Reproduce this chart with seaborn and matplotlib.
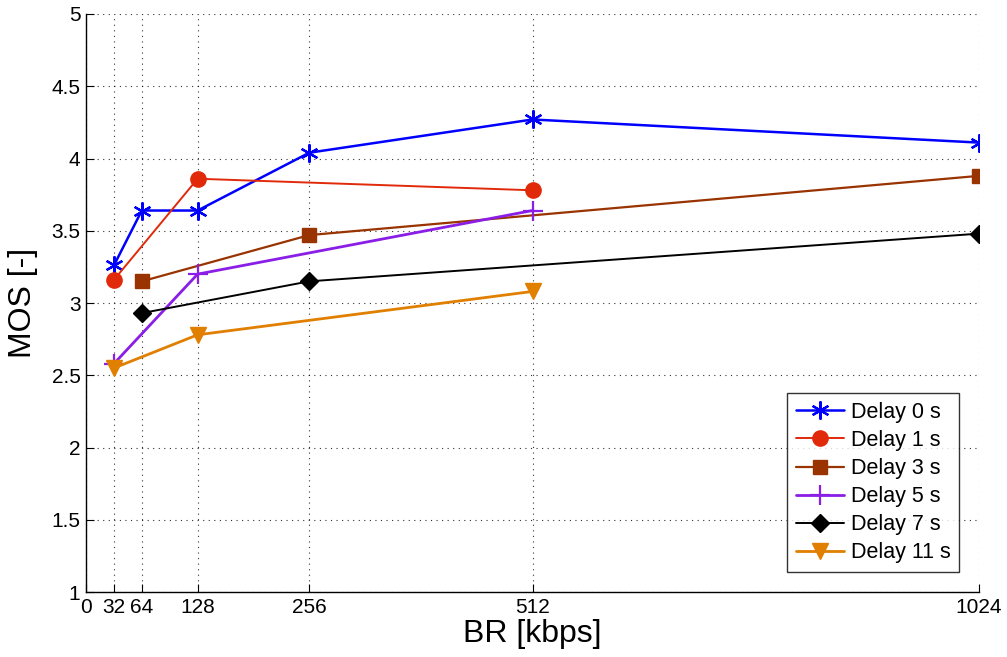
import matplotlib
matplotlib.use("Agg")
import matplotlib.pyplot as plt
import seaborn as sns
import pandas as pd

# Bit rates (kbps) and mean opinion scores per playout delay
br_d0 = [32, 64, 128, 256, 512, 1024]
mos_d0 = [3.26, 3.64, 3.64, 4.04, 4.27, 4.11]
br_d1 = [32, 128, 512]
mos_d1 = [3.16, 3.86, 3.78]
br_d3 = [64, 256, 1024]
mos_d3 = [3.15, 3.47, 3.88]
br_d5 = [32, 128, 512]
mos_d5 = [2.58, 3.20, 3.64]
br_d7 = [64, 256, 1024]
mos_d7 = [2.93, 3.15, 3.48]
br_d11 = [32, 128, 512]
mos_d11 = [2.55, 2.78, 3.08]

labels = ["Delay 0 s", "Delay 1 s", "Delay 3 s", "Delay 5 s", "Delay 7 s", "Delay 11 s"]
x_ticks = [0, 32, 64, 128, 256, 512, 1024]
y_ticks = [1, 1.5, 2, 2.5, 3, 3.5, 4, 4.5, 5]
y_tick_labels = ["1", "1.5", "2", "2.5", "3", "3.5", "4", "4.5", "5"]

series = [
    (br_d0, mos_d0), (br_d1, mos_d1), (br_d3, mos_d3),
    (br_d5, mos_d5), (br_d7, mos_d7), (br_d11, mos_d11),
]

styles = [
    dict(color="#0000ff", marker=(6, 2, 0), markersize=13, linewidth=1.8, mew=1.6),
    dict(color="#e02a0a", marker="o", markersize=11, linewidth=1.4, mew=1.0),
    dict(color="#993300", marker="s", markersize=10, linewidth=1.6, mew=1.0),
    dict(color="#8a1ee6", marker="+", markersize=14, linewidth=2.0, mew=1.6),
    dict(color="#000000", marker="D", markersize=9, linewidth=1.4, mew=1.0),
    dict(color="#e07f00", marker="v", markersize=12, linewidth=2.0, mew=1.0),
]

sns.set_style("white")
plt.rcParams["font.family"] = ["Liberation Sans", "DejaVu Sans"]
plt.rcParams["text.color"] = "black"
plt.rcParams["axes.labelcolor"] = "black"
plt.rcParams["xtick.color"] = "black"
plt.rcParams["ytick.color"] = "black"

fig = plt.figure(figsize=(10.07, 6.57), dpi=100)
ax = fig.add_axes([0.0854, 0.0989, 0.8868, 0.8798])

frames = []
for lab, (xs, ys) in zip(labels, series):
    frames.append(pd.DataFrame({"BR": xs, "MOS": ys, "Delay": lab}))
data = pd.concat(frames, ignore_index=True)

for lab, st in zip(labels, styles):
    sub = data[data["Delay"] == lab]
    sns.lineplot(
        data=sub, x="BR", y="MOS", ax=ax, label=lab,
        color=st["color"], marker=st["marker"], markersize=st["markersize"],
        linewidth=st["linewidth"], markeredgewidth=st["mew"],
        markeredgecolor=st["color"], markerfacecolor=st["color"],
        sort=False, estimator=None,
    )

ax.set_xlim(0, 1024)
ax.set_ylim(1, 5)
ax.set_xticks(x_ticks)
ax.set_xticklabels([str(t) for t in x_ticks])
ax.set_yticks(y_ticks)
ax.set_yticklabels(y_tick_labels)

ax.grid(True, linestyle=(0, (1, 4)), color="black", linewidth=0.8, alpha=0.8)
ax.set_axisbelow(True)

for side in ["top", "right"]:
    ax.spines[side].set_visible(False)
for side in ["left", "bottom"]:
    ax.spines[side].set_color("black")
    ax.spines[side].set_linewidth(1.0)

ax.tick_params(axis="both", direction="in", length=6, width=0.8,
               labelsize=15, colors="black", labelcolor="black", pad=4,
               left=True, bottom=True)

ax.set_xlabel("BR [kbps]", fontsize=23, labelpad=2, color="black")
ax.set_ylabel("MOS [-]", fontsize=23, labelpad=10, color="black")

leg = ax.legend(loc="lower right", bbox_to_anchor=(0.9776, 0.0346), fontsize=15.5,
                frameon=True, fancybox=False, edgecolor="black",
                borderpad=0.4, labelspacing=0.33, handlelength=2.25,
                handletextpad=0.3, borderaxespad=0)
leg.get_frame().set_linewidth(1.0)
for t in leg.get_texts():
    t.set_color("black")

fig.savefig("out.png", dpi=100, facecolor="white")
